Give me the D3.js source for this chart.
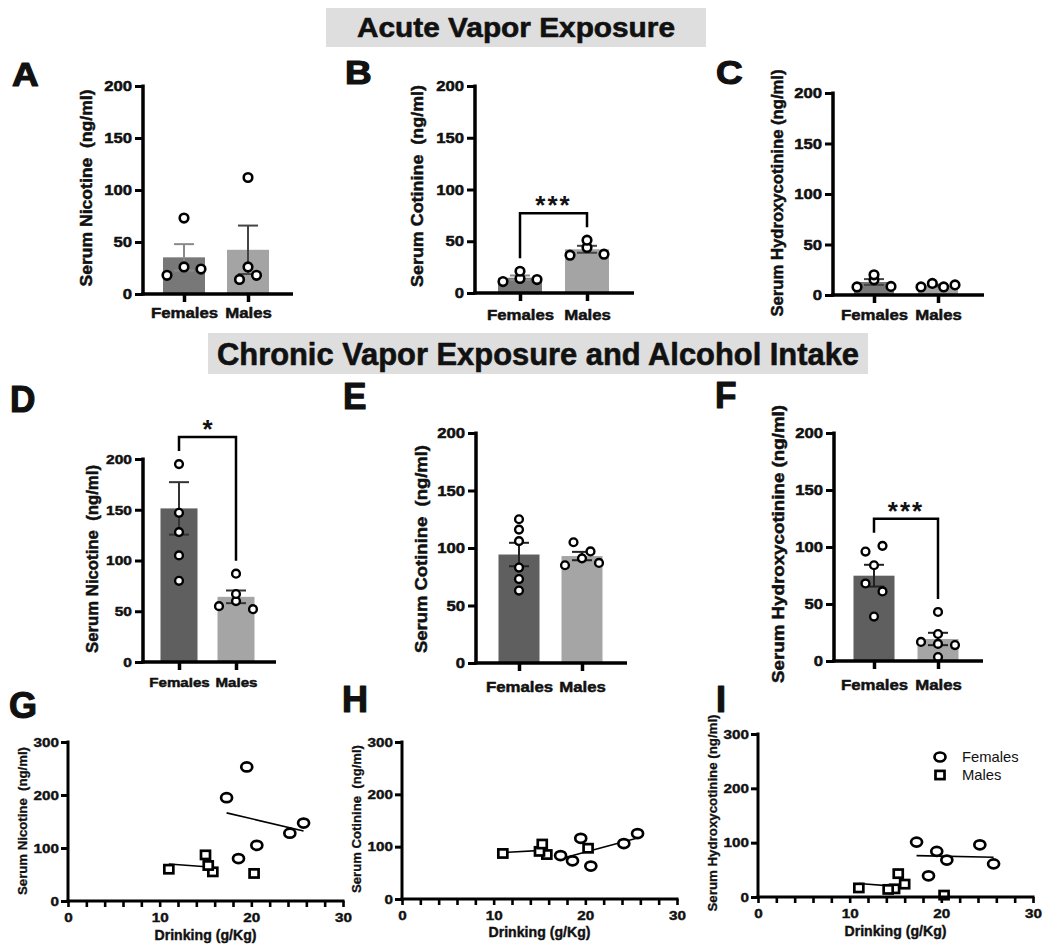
<!DOCTYPE html>
<html>
<head>
<meta charset="utf-8">
<script src="https://cdn.jsdelivr.net/npm/d3@7"></script>
<style>
  body { margin: 0; background: #fff; }
  svg { display: block; }
  text { font-family: "Liberation Sans", Arial, Helvetica, sans-serif; fill: #111; }
</style>
</head>
<body>
<svg id="chart" width="1050" height="948"></svg>
<script>
// ---------------- DATA ----------------
const groups = ["Females", "Males"];

// Acute vapor exposure (ng/ml)
const acuteNicotineF = [18, 26, 24, 73];
const acuteNicotineM = [14, 18, 26, 112];
const acuteCotinineF = [11, 14, 13, 21];
const acuteCotinineM = [36.5, 44, 37.5, 51];
const acuteHydroxyF  = [8, 15, 8.5, 20];
const acuteHydroxyM  = [8, 11.5, 8, 10];

// Chronic vapor exposure and alcohol intake (one entry per animal)
const drinkingF = [24.2, 17.3, 18.6, 19.5, 20.6, 25.7];   // g/Kg
const nicotineF = [128, 195, 80, 253, 105, 147];
const cotinineF = [106, 83, 73, 116, 63, 125];
const hydroxyF  = [96, 101, 39, 84, 68, 61];

const drinkingM = [15.8, 15, 11, 15.3, 20.3];
const nicotineM = [55, 87, 60, 67, 52];
const cotinineM = [85, 91, 87, 105, 97];
const drinkingMHydroxy = [11, 14.9, 14.2, 15.3, 16, 20.3];
const hydroxyM  = [16.7, 15, 14, 43, 23.7, 3.5];

const maleFitRange = [11, 15.8];

const barTicks = [0, 50, 100, 150, 200];
const scatterYTicks = [0, 100, 200, 300];
const scatterXTicks = d3.range(0, 31, 2);
const scatterXLabels = [0, 10, 20, 30];

// ---------------- HELPERS ----------------
const svg = d3.select("#chart");

function stretch(sel, k) {
  sel.each(function () {
    const L = this.getComputedTextLength();
    d3.select(this).attr("textLength", L * k).attr("lengthAdjust", "spacingAndGlyphs");
  });
}
function heavy(sel, w) {
  sel.attr("stroke", "#111").attr("stroke-width", w).attr("stroke-linejoin", "round");
}

function yLabel(g, text, cx, cy, size, len, w) {
  const t = g.append("text")
    .attr("transform", `translate(${cx},${cy}) rotate(-90)`)
    .attr("text-anchor", "middle")
    .attr("dominant-baseline", "central")
    .attr("font-size", size)
    .attr("font-weight", "bold")
    .style("white-space", "pre")
    .attr("textLength", len)
    .attr("lengthAdjust", "spacingAndGlyphs")
    .text(text);
  heavy(t, w);
}

function panelLetter(letter, x, y, size, k) {
  const t = svg.append("text").attr("x", x).attr("y", y)
    .attr("font-size", size).attr("font-weight", "bold").text(letter);
  stretch(t, k);
  heavy(t, 1.2);
}

// group points of similar value into rows, spread each row symmetrically
function dodge(vals, yScale, maxV) {
  const idx = vals.map((v, i) => i).filter(i => vals[i] <= maxV)
    .sort((a, b) => vals[a] - vals[b]);
  const rows = [];
  let cur = null;
  idx.forEach(i => {
    if (cur && Math.abs(yScale(vals[i]) - yScale(vals[cur[0]])) < 10) cur.push(i);
    else { cur = [i]; rows.push(cur); }
  });
  const off = vals.map(() => 0);
  rows.forEach(r => {
    r.sort((a, b) => a - b);
    const n = r.length;
    const s = n > 1 ? Math.min(17, 34 / (n - 1)) : 0;
    r.forEach((i, k) => off[i] = (k - (n - 1) / 2) * s);
  });
  return off;
}

// ---------------- BAR PANELS ----------------
function barPanel(c) {
  const g = svg.append("g");
  const y = d3.scaleLinear().domain([0, 200]).range([c.y0, c.y200]);
  const x = d3.scalePoint().domain(groups).range(c.centers);
  const data = [c.f, c.m];
  const topVisible = [];

  data.forEach((vals, i) => {
    const cx = x(groups[i]);
    const m = d3.mean(vals);
    const se = d3.deviation(vals) / Math.sqrt(vals.length);
    g.append("rect")
      .attr("x", cx - c.bw / 2).attr("width", c.bw)
      .attr("y", y(m)).attr("height", y(0) - y(m))
      .attr("fill", c.colors[i]);
    const ec = c.errColors[i];
    g.append("line").attr("x1", cx).attr("x2", cx)
      .attr("y1", y(m - se)).attr("y2", y(m + se))
      .attr("stroke", ec).attr("stroke-width", 2);
    [m + se, m - se].forEach(v => {
      g.append("line").attr("x1", cx - 10).attr("x2", cx + 10)
        .attr("y1", y(v)).attr("y2", y(v))
        .attr("stroke", ec).attr("stroke-width", 2);
    });
  });

  data.forEach((vals, i) => {
    const cx = x(groups[i]);
    const off = dodge(vals, y, 200);
    const vis = vals.map((v, j) => ({ v, o: off[j] })).filter(d => d.v <= 200);
    topVisible.push(d3.max(vis, d => d.v));
    g.selectAll(null).data(vis).join("circle")
      .attr("cx", d => cx + d.o).attr("cy", d => y(d.v))
      .attr("r", c.r).attr("fill", "#fff")
      .attr("stroke", "#000").attr("stroke-width", c.sw);
  });

  // axes
  const ya = g.append("g").attr("transform", `translate(${c.x0},0)`)
    .call(d3.axisLeft(y).tickValues(barTicks).tickSize(8).tickPadding(3).tickSizeOuter(0));
  ya.select(".domain").remove();
  ya.append("line").attr("x1", 0).attr("x2", 0).attr("y1", c.y200 - 1.5).attr("y2", c.y0 + 1.5)
    .attr("stroke", "#000").attr("stroke-width", 3.5);
  ya.selectAll(".tick line").attr("stroke", "#000").attr("stroke-width", 3);
  const yt = ya.selectAll(".tick text").attr("font-size", c.tickFont).attr("font-weight", "bold")
    .attr("fill", "#111").attr("font-family", null);
  stretch(yt, 1.15);
  heavy(yt, 0.5);

  const xa = g.append("g").attr("transform", `translate(0,${c.y0})`)
    .call(d3.axisBottom(x).tickSize(8).tickSizeOuter(0));
  xa.select(".domain").remove();
  xa.append("line").attr("x1", c.x0 - 1.75).attr("x2", c.xEnd).attr("y1", 0).attr("y2", 0)
    .attr("stroke", "#000").attr("stroke-width", 3.5);
  xa.selectAll(".tick line").attr("stroke", "#000").attr("stroke-width", 3.5);
  const xt = xa.selectAll(".tick text").attr("font-size", c.catFont).attr("font-weight", "bold")
    .attr("fill", "#111").attr("font-family", null)
    .attr("y", c.catBaseline - c.y0).attr("dy", null);
  stretch(xt, 1.12);
  heavy(xt, 0.5);

  yLabel(g, c.label, c.lab[0], c.lab[1], c.labSize, c.lab[2], 0.5);

  // significance bracket
  if (c.sig) {
    const legs = data.map((vals, i) => y(topVisible[i]) - 13);
    const by = d3.min(legs) - 14;
    const xs = groups.map(k => x(k));
    g.append("path")
      .attr("d", `M${xs[0]},${legs[0]}V${by}H${xs[1]}V${legs[1]}`)
      .attr("fill", "none").attr("stroke", "#000").attr("stroke-width", 2.5);
    g.append("text").attr("x", (xs[0] + xs[1]) / 2).attr("y", by + 1)
      .attr("text-anchor", "middle").attr("font-size", 26).attr("font-weight", "bold")
      .attr("letter-spacing", c.sig.length > 1 ? 2 : 0)
      .text(c.sig);
  }
}

const acuteColors = ["#787878", "#a4a4a4"];
const chronicColors = ["#5f5f5f", "#a5a5a5"];

barPanel({ x0: 143, xEnd: 293, y0: 294, y200: 86, centers: [184, 248], bw: 42,
  f: acuteNicotineF, m: acuteNicotineM, colors: acuteColors, errColors: ["#8a8a8a", "#444"],
  r: 4.3, sw: 2.6, tickFont: 14.5, catFont: 15, catBaseline: 318,
  label: "Serum Nicotine  (ng/ml)", lab: [86, 188, 197], labSize: 17 });
barPanel({ x0: 475, xEnd: 634, y0: 293, y200: 86, centers: [520, 587], bw: 44,
  f: acuteCotinineF, m: acuteCotinineM, colors: acuteColors, errColors: ["#8a8a8a", "#444"],
  r: 4.3, sw: 2.6, tickFont: 14.5, catFont: 15, catBaseline: 320,
  label: "Serum Cotinine  (ng/ml)", lab: [417, 186, 202], labSize: 17, sig: "***" });
barPanel({ x0: 833, xEnd: 984, y0: 295, y200: 93, centers: [874, 938], bw: 40,
  f: acuteHydroxyF, m: acuteHydroxyM, colors: acuteColors, errColors: ["#444", "#444"],
  r: 4.3, sw: 2.6, tickFont: 14.5, catFont: 15, catBaseline: 320,
  label: "Serum Hydroxycotinine (ng/ml)", lab: [777, 193, 247], labSize: 17 });
barPanel({ x0: 143, xEnd: 276, y0: 662, y200: 459, centers: [179, 236], bw: 37,
  f: nicotineF, m: nicotineM, colors: chronicColors, errColors: ["#333", "#333"],
  r: 3.9, sw: 2.4, tickFont: 13.5, catFont: 13.5, catBaseline: 687,
  label: "Serum Nicotine  (ng/ml)", lab: [92, 559, 188], labSize: 16, sig: "*" });
barPanel({ x0: 476, xEnd: 627, y0: 663, y200: 433, centers: [519, 582], bw: 41,
  f: cotinineF, m: cotinineM, colors: chronicColors, errColors: ["#222", "#222"],
  r: 3.9, sw: 2.4, tickFont: 14.5, catFont: 15, catBaseline: 692,
  label: "Serum Cotinine  (ng/ml)", lab: [421, 549, 208], labSize: 17 });
barPanel({ x0: 834, xEnd: 983, y0: 661, y200: 433, centers: [874, 938], bw: 41,
  f: hydroxyF, m: hydroxyM, colors: chronicColors, errColors: ["#222", "#222"],
  r: 3.9, sw: 2.4, tickFont: 14.5, catFont: 15, catBaseline: 690,
  label: "Serum Hydroxycotinine (ng/ml)", lab: [778, 544, 278], labSize: 17, sig: "***" });

// ---------------- SCATTER PANELS ----------------
function linFit(xs, ys) {
  const mx = d3.mean(xs), my = d3.mean(ys);
  let sxy = 0, sxx = 0;
  xs.forEach((v, i) => { sxy += (v - mx) * (ys[i] - my); sxx += (v - mx) * (v - mx); });
  const b = sxy / sxx;
  return t => my + b * (t - mx);
}

function circleMark(g, cx, cy) {
  g.append("ellipse").attr("cx", cx).attr("cy", cy).attr("rx", 5.5).attr("ry", 4.5)
    .attr("fill", "#fff").attr("stroke", "#000").attr("stroke-width", 2.7);
}
function squareMark(g, cx, cy) {
  g.append("rect").attr("x", cx - 4.5).attr("y", cy - 4.1).attr("width", 9).attr("height", 8.2)
    .attr("fill", "#fff").attr("stroke", "#000").attr("stroke-width", 2.7);
}

function scatterPanel(c) {
  const g = svg.append("g");
  const x = d3.scaleLinear().domain([0, 30]).range([c.x0, c.x30]);
  const y = d3.scaleLinear().domain([0, 300]).range([c.y0, c.y300]);

  const fF = linFit(c.xf, c.yf);
  const fM = linFit(c.xm, c.ym);
  const line = d3.line().x(d => x(d[0])).y(d => y(d[1]));
  const eF = d3.extent(c.xf);
  g.append("path").attr("d", line(eF.map(t => [t, fF(t)])))
    .attr("stroke", "#000").attr("stroke-width", 1.6).attr("fill", "none");
  g.append("path").attr("d", line(maleFitRange.map(t => [t, fM(t)])))
    .attr("stroke", "#000").attr("stroke-width", 1.6).attr("fill", "none");

  c.xm.forEach((v, i) => squareMark(g, x(v), y(c.ym[i])));
  c.xf.forEach((v, i) => circleMark(g, x(v), y(c.yf[i])));

  const ya = g.append("g").attr("transform", `translate(${c.x0},0)`)
    .call(d3.axisLeft(y).tickValues(scatterYTicks).tickSize(7).tickPadding(2).tickSizeOuter(0));
  ya.select(".domain").remove();
  ya.append("line").attr("x1", 0).attr("x2", 0).attr("y1", c.y300 - 1.5).attr("y2", c.y0 + 1.5)
    .attr("stroke", "#000").attr("stroke-width", 3);
  ya.selectAll(".tick line").attr("stroke", "#000").attr("stroke-width", 3);
  const yt = ya.selectAll(".tick text").attr("font-size", 12.5).attr("font-weight", "bold")
    .attr("fill", "#111").attr("font-family", null);
  stretch(yt, 1.22);
  heavy(yt, 0.4);

  const xa = g.append("g").attr("transform", `translate(0,${c.y0})`)
    .call(d3.axisBottom(x).tickValues(scatterXTicks).tickSize(6).tickSizeOuter(0)
      .tickFormat(d => scatterXLabels.includes(d) ? d : ""));
  xa.select(".domain").remove();
  xa.append("line").attr("x1", c.x0 - 1.5).attr("x2", c.x30 + 1.5).attr("y1", 0).attr("y2", 0)
    .attr("stroke", "#000").attr("stroke-width", 3);
  xa.selectAll(".tick line").attr("stroke", "#000").attr("stroke-width", 2.6);
  const xt = xa.selectAll(".tick text").filter(d => scatterXLabels.includes(d))
    .attr("font-size", 12.5).attr("font-weight", "bold").attr("fill", "#111")
    .attr("font-family", null).attr("y", 21).attr("dy", null);
  stretch(xt, 1.22);
  heavy(xt, 0.4);

  const xl = g.append("text").attr("x", (c.x0 + c.x30) / 2).attr("y", c.xlabY)
    .attr("text-anchor", "middle").attr("font-size", 14).attr("font-weight", "bold")
    .text("Drinking (g/Kg)");
  xl.attr("textLength", 102).attr("lengthAdjust", "spacingAndGlyphs");
  heavy(xl, 0.4);

  yLabel(g, c.label, c.lab[0], c.lab[1], 13, c.lab[2], 0.3);

  if (c.legend) {
    const [lx, ly] = c.legend;
    circleMark(g, lx, ly);
    squareMark(g, lx, ly + 18);
    const t1 = g.append("text").attr("x", lx + 22).attr("y", ly + 5).attr("font-size", 14.5).text("Females");
    const t2 = g.append("text").attr("x", lx + 22).attr("y", ly + 23).attr("font-size", 14.5).text("Males");
    stretch(t1, 1.02); stretch(t2, 1.02);
  }
}

scatterPanel({ x0: 68, x30: 343, y0: 901, y300: 742, xf: drinkingF, yf: nicotineF,
  xm: drinkingM, ym: nicotineM, label: "Serum Nicotine  (ng/ml)", lab: [22, 821, 148], xlabY: 940 });
scatterPanel({ x0: 402, x30: 677, y0: 899, y300: 742, xf: drinkingF, yf: cotinineF,
  xm: drinkingM, ym: cotinineM, label: "Serum Cotinine  (ng/ml)", lab: [356, 819, 148], xlabY: 937 });
scatterPanel({ x0: 758, x30: 1033, y0: 897, y300: 734, xf: drinkingF, yf: hydroxyF,
  xm: drinkingMHydroxy, ym: hydroxyM, label: "Serum Hydroxycotinine (ng/ml)", lab: [712, 813, 197],
  xlabY: 936, legend: [940, 757] });

// ---------------- HEADERS & LETTERS ----------------
function header(text, x0, x1, y0, y1, size, baseline, len) {
  svg.append("rect").attr("x", x0).attr("y", y0).attr("width", x1 - x0).attr("height", y1 - y0)
    .attr("fill", "#dedede");
  const t = svg.append("text").attr("x", (x0 + x1) / 2).attr("y", baseline).attr("text-anchor", "middle")
    .attr("font-size", size).attr("font-weight", "bold")
    .attr("textLength", len).attr("lengthAdjust", "spacingAndGlyphs").text(text);
  heavy(t, 0.6);
}
header("Acute Vapor Exposure", 326, 706, 8, 47, 27, 37, 318);
header("Chronic Vapor Exposure and Alcohol Intake", 208, 868, 333, 374, 31, 365, 642);

panelLetter("A", 12, 86, 33, 1.12);
panelLetter("B", 345, 84, 33, 1.12);
panelLetter("C", 716, 84, 33, 1.12);
panelLetter("D", 10, 412, 37, 0.95);
panelLetter("E", 343, 409, 37, 0.95);
panelLetter("F", 715, 408, 37, 0.95);
panelLetter("G", 9, 718, 36, 1.0);
panelLetter("H", 342, 712, 36, 1.0);
panelLetter("I", 716, 712, 36, 1.0);
</script>
</body>
</html>
